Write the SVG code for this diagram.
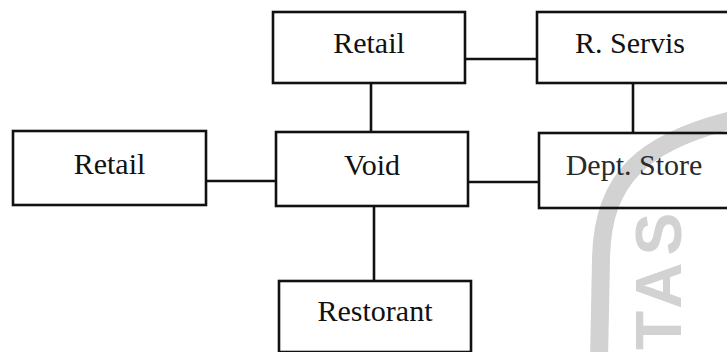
<svg xmlns="http://www.w3.org/2000/svg" width="727" height="352" viewBox="0 0 727 352">
  <style>
    .box { fill: none; stroke: #111; stroke-width: 2.6; }
    .link { stroke: #111; stroke-width: 2.6; fill: none; }
    .label { font-family: "Liberation Serif", "Times New Roman", serif; font-size: 30px; fill: #111; text-anchor: middle; }
    .mark { fill: none; stroke: #d2d2d2; stroke-width: 18; }
    .markText { font-family: "Liberation Sans", Arial, sans-serif; font-weight: bold; font-size: 64px; fill: #d2d2d2; letter-spacing: 7px; }
  </style>
  <rect width="727" height="352" fill="#fff"/>

  <!-- faint seal ring in the lower right -->
  <g id="seal">
    <path class="mark" d="M 745 117 C 640 140, 602 180, 601 260 L 599 360"/>
    <text class="markText" transform="translate(681 350) rotate(-90)">TAS</text>
  </g>

  <g id="connectors">
    <line class="link" x1="465" y1="59" x2="537" y2="59"/>
    <line class="link" x1="371" y1="83" x2="371" y2="132"/>
    <line class="link" x1="633" y1="83" x2="633" y2="133"/>
    <line class="link" x1="206" y1="181" x2="276" y2="181"/>
    <line class="link" x1="468" y1="182" x2="539" y2="182"/>
    <line class="link" x1="374" y1="206" x2="374" y2="281"/>
  </g>

  <g id="retail-top">
    <rect class="box" x="273" y="12" width="192" height="71"/>
    <text class="label" x="369" y="53">Retail</text>
  </g>
  <g id="r-servis">
    <rect class="box" x="537" y="12" width="193" height="71"/>
    <text class="label" x="630" y="53">R. Servis</text>
  </g>
  <g id="retail-left">
    <rect class="box" x="13" y="131" width="193" height="74"/>
    <text class="label" x="109.5" y="174">Retail</text>
  </g>
  <g id="void">
    <rect class="box" x="276" y="132" width="192" height="74"/>
    <text class="label" x="372" y="175">Void</text>
  </g>
  <g id="dept-store">
    <rect class="box" x="539" y="133" width="191" height="75"/>
    <text class="label" x="634" y="175" style="fill:#2a2a2a">Dept. Store</text>
  </g>
  <g id="restorant">
    <rect class="box" x="279" y="281" width="192" height="71"/>
    <text class="label" x="375" y="321">Restorant</text>
  </g>
</svg>
